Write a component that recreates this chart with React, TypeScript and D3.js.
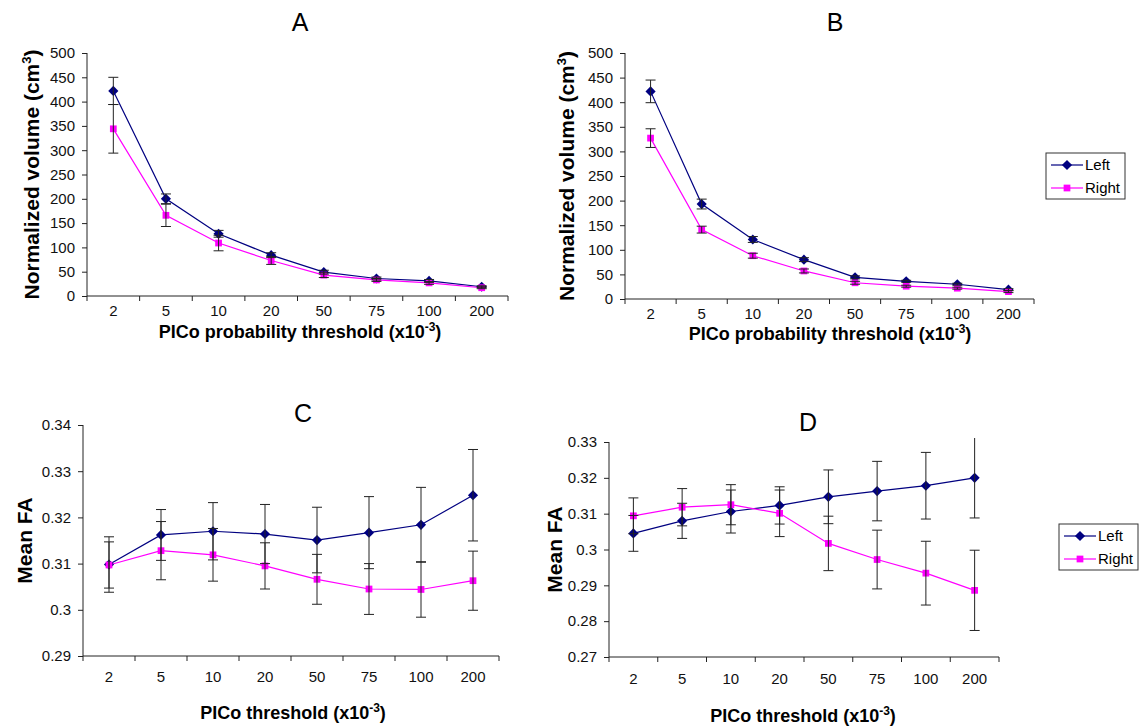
import React, { useRef, useEffect } from 'react'
import * as d3 from 'd3'

// thresholds (x10^-3)
const categories = ['2', '5', '10', '20', '50', '75', '100', '200']

// A: normalized volume (cm3)
const volALeft = [422, 200, 128, 84, 49, 36, 31, 19]
const volALeftErr = [28, 10, 7, 5, 4, 3, 3, 2]
const volARight = [344, 166, 109, 73, 43, 33, 27, 17]
const volARightErr = [50, 23, 16, 8, 5, 3, 3, 2]

// B: normalized volume (cm3)
const volBLeft = [422, 193, 121, 80, 44, 36, 30, 19]
const volBLeftErr = [23, 10, 6, 4, 3, 2, 2, 2]
const volBRight = [327, 141, 88, 57, 33, 26, 22, 15]
const volBRightErr = [19, 7, 5, 4, 3, 2, 2, 2]

// C: mean FA
const faCLeft = [0.3098, 0.3162, 0.317, 0.3164, 0.3151, 0.3167, 0.3184, 0.3248]
const faCLeftErr = [0.006, 0.0055, 0.0062, 0.0064, 0.0071, 0.0078, 0.0081, 0.0099]
const faCRight = [0.3097, 0.3128, 0.3119, 0.3095, 0.3066, 0.3045, 0.3044, 0.3063]
const faCRightErr = [0.005, 0.0063, 0.0057, 0.005, 0.0054, 0.0055, 0.006, 0.0064]

// D: mean FA
const faDLeft = [0.3045, 0.308, 0.3106, 0.3123, 0.3147, 0.3163, 0.3178, 0.32]
const faDLeftErr = [0.005, 0.0049, 0.006, 0.0052, 0.0075, 0.0083, 0.0093, 0.0112]
const faDRight = [0.3094, 0.3118, 0.3125, 0.3101, 0.3017, 0.2972, 0.2934, 0.2886]
const faDRightErr = [0.005, 0.0052, 0.0056, 0.0065, 0.0076, 0.0082, 0.0089, 0.0112]

const seriesNames = ['Left', 'Right']
const LEFT_COLOR = '#000080'
const RIGHT_COLOR = '#ff00ff'
const FONT = '"Liberation Sans", Arial, sans-serif'

type Panel = {
  title: string
  titleX: number
  titleY: number
  x0: number
  x1: number
  yTop: number
  yBottom: number
  domain: [number, number]
  ticks: number[]
  left: number[]
  leftErr: number[]
  right: number[]
  rightErr: number[]
  yLabel: string
  ySup?: string
  yLabelX: number
  xLabel: string
  xLabelX: number
  xLabelY: number
  xPad: number
  legend?: [number, number]
}

const panels: Panel[] = [
  {
    title: 'A', titleX: 300, titleY: 31,
    x0: 87, x1: 508, yTop: 53, yBottom: 296,
    domain: [0, 500], ticks: d3.range(0, 501, 50),
    left: volALeft, leftErr: volALeftErr, right: volARight, rightErr: volARightErr,
    yLabel: 'Normalized volume (cm', ySup: '3', yLabelX: 39,
    xLabel: 'PICo probability threshold (x10', xLabelX: 300, xLabelY: 338, xPad: 9,
  },
  {
    title: 'B', titleX: 835, titleY: 31,
    x0: 625, x1: 1034, yTop: 53, yBottom: 299,
    domain: [0, 500], ticks: d3.range(0, 501, 50),
    left: volBLeft, leftErr: volBLeftErr, right: volBRight, rightErr: volBRightErr,
    yLabel: 'Normalized volume (cm', ySup: '3', yLabelX: 574,
    xLabel: 'PICo probability threshold (x10', xLabelX: 830, xLabelY: 340, xPad: 9,
    legend: [1046, 153],
  },
  {
    title: 'C', titleX: 303, titleY: 422,
    x0: 83, x1: 499, yTop: 425, yBottom: 656,
    domain: [0.29, 0.34], ticks: [0.29, 0.3, 0.31, 0.32, 0.33, 0.34],
    left: faCLeft, leftErr: faCLeftErr, right: faCRight, rightErr: faCRightErr,
    yLabel: 'Mean FA', yLabelX: 32,
    xLabel: 'PICo threshold (x10', xLabelX: 293, xLabelY: 719, xPad: 15,
  },
  {
    title: 'D', titleX: 808, titleY: 431,
    x0: 609, x1: 999, yTop: 442, yBottom: 657,
    domain: [0.27, 0.33], ticks: [0.27, 0.28, 0.29, 0.3, 0.31, 0.32, 0.33],
    left: faDLeft, leftErr: faDLeftErr, right: faDRight, rightErr: faDRightErr,
    yLabel: 'Mean FA', yLabelX: 562,
    xLabel: 'PICo threshold (x10', xLabelX: 803, xLabelY: 722, xPad: 16,
    legend: [1059, 524],
  },
]

const App = () => {
  const svgRef = useRef<SVGSVGElement>(null)

  useEffect(() => {
    const svg = d3.select(svgRef.current)
    svg.selectAll('*').remove()
    svg.attr('font-family', FONT)

    const diamond = d3.symbol().type(d3.symbolDiamond2).size(66)
    const square = d3.symbol().type(d3.symbolSquare2).size(58)

    panels.forEach((p) => {
      const g = svg.append('g')
      const x = d3.scaleBand().domain(categories).range([p.x0, p.x1]).padding(0)
      const y = d3.scaleLinear().domain(p.domain).range([p.yBottom, p.yTop])
      const cx = (c: string) => (x(c) ?? 0) + x.bandwidth() / 2

      // title
      g.append('text')
        .attr('x', p.titleX).attr('y', p.titleY)
        .attr('text-anchor', 'middle').attr('font-size', 25)
        .text(p.title)

      // y axis
      const yAxis = g.append('g')
        .attr('transform', `translate(${p.x0},0)`)
        .call(d3.axisLeft(y).tickValues(p.ticks).tickSize(5).tickPadding(7).tickFormat(d3.format('')))
      yAxis.selectAll('text').attr('font-size', 15).attr('font-family', FONT).attr('fill', '#111')
      yAxis.selectAll('line').attr('stroke', '#222')
      yAxis.select('.domain').attr('stroke', '#222').attr('d', `M0,${p.yBottom}V${p.yTop}`)

      // x axis: labels at band centres, ticks at band edges
      const xAxis = g.append('g')
        .attr('transform', `translate(0,${p.yBottom})`)
        .call(d3.axisBottom(x).tickSize(0).tickPadding(p.xPad))
      xAxis.selectAll('text').attr('font-size', 15).attr('font-family', FONT).attr('fill', '#111')
      xAxis.select('.domain').attr('stroke', '#222').attr('d', `M${p.x0},0H${p.x1}`)
      const edges = categories.map((c) => x(c) ?? 0).concat([p.x1])
      xAxis.selectAll('line.edge').data(edges).enter().append('line')
        .attr('class', 'edge')
        .attr('x1', (d) => d).attr('x2', (d) => d)
        .attr('y1', 0).attr('y2', 5)
        .attr('stroke', '#222')

      // y label
      const yl = g.append('text')
        .attr('transform', `translate(${p.yLabelX},${(p.yTop + p.yBottom) / 2}) rotate(-90)`)
        .attr('text-anchor', 'middle').attr('font-size', 21).attr('font-weight', 'bold')
      yl.append('tspan').text(p.yLabel)
      if (p.ySup) {
        yl.append('tspan').attr('dy', -8).attr('font-size', 13).text(p.ySup)
        yl.append('tspan').attr('dy', 8).text(')')
      }

      // x label
      const xl = g.append('text')
        .attr('x', p.xLabelX).attr('y', p.xLabelY)
        .attr('text-anchor', 'middle').attr('font-size', 18).attr('font-weight', 'bold')
      xl.append('tspan').text(p.xLabel)
      xl.append('tspan').attr('dy', -7).attr('font-size', 12).text('-3')
      xl.append('tspan').attr('dy', 7).text(')')

      const series = [
        { vals: p.left, errs: p.leftErr, color: LEFT_COLOR, sym: diamond },
        { vals: p.right, errs: p.rightErr, color: RIGHT_COLOR, sym: square },
      ]

      const line = d3.line<number>()
        .x((_, i) => cx(categories[i]))
        .y((d) => y(d))

      series.forEach((s) => {
        g.append('path')
          .attr('d', line(s.vals))
          .attr('fill', 'none').attr('stroke', s.color).attr('stroke-width', 1.2)
      })

      series.forEach((s) => {
        g.selectAll(null).data(s.vals).enter().append('path')
          .attr('d', s.sym)
          .attr('transform', (d, i) => `translate(${cx(categories[i])},${y(d)})`)
          .attr('fill', s.color)
      })

      // error bars (clipped just above the axis top, no cap when clipped)
      series.forEach((s) => {
        s.vals.forEach((v, i) => {
          const xc = cx(categories[i])
          const hi = v + s.errs[i]
          const lo = v - s.errs[i]
          const over = hi > p.domain[1]
          const yHi = over ? Math.max(y(hi), p.yTop - 4) : y(hi)
          g.append('line')
            .attr('x1', xc).attr('x2', xc)
            .attr('y1', yHi).attr('y2', y(lo))
            .attr('stroke', '#222').attr('stroke-width', 1)
          const caps = over ? [lo] : [hi, lo]
          caps.forEach((c) => {
            g.append('line')
              .attr('x1', xc - 5).attr('x2', xc + 5)
              .attr('y1', y(c)).attr('y2', y(c))
              .attr('stroke', '#222').attr('stroke-width', 1)
          })
        })
      })

      // legend
      if (p.legend) {
        const [lx, ly] = p.legend
        const lg = g.append('g').attr('transform', `translate(${lx},${ly})`)
        lg.append('rect')
          .attr('width', 79).attr('height', 46)
          .attr('fill', 'white').attr('stroke', '#333').attr('stroke-width', 1)
        series.forEach((s, i) => {
          const ry = 12 + i * 23
          lg.append('line')
            .attr('x1', 5).attr('x2', 37).attr('y1', ry).attr('y2', ry)
            .attr('stroke', s.color).attr('stroke-width', 1.2)
          lg.append('path')
            .attr('d', s.sym)
            .attr('transform', `translate(21,${ry})`)
            .attr('fill', s.color)
          lg.append('text')
            .attr('x', 39).attr('y', ry + 5)
            .attr('font-size', 15)
            .text(seriesNames[i])
        })
      }
    })
  }, [])

  return <svg ref={svgRef} width={1140} height={727} style={{ position: 'absolute', left: 0, top: 0 }} />
}

export default App
